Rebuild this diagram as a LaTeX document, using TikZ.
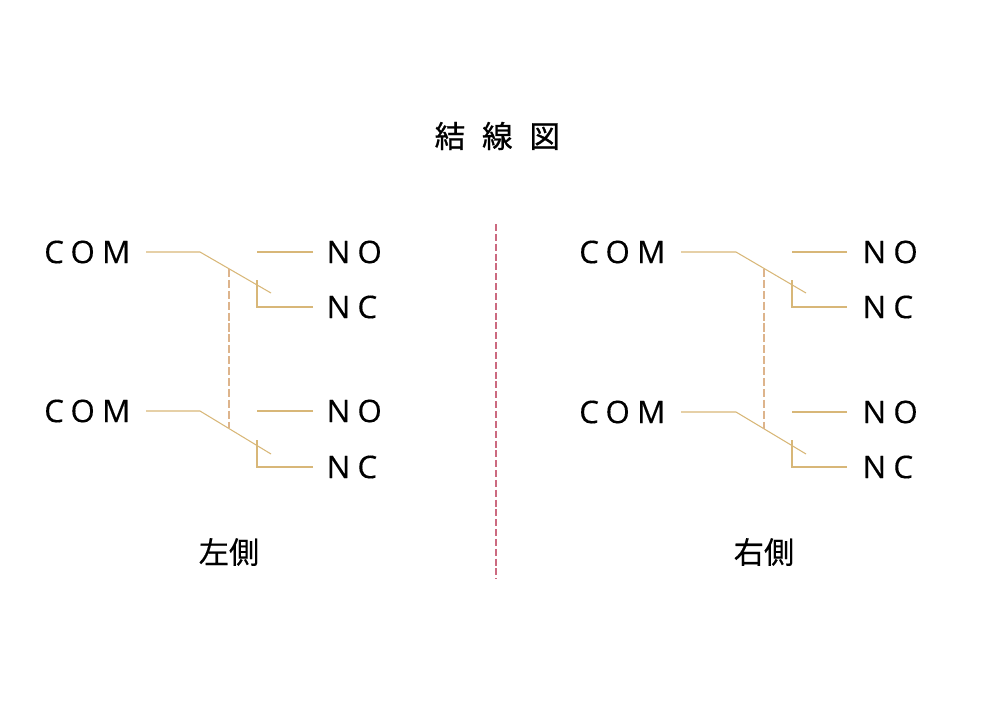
\documentclass[tikz,border=0pt]{standalone}
\usepackage{fontspec}
\setmainfont{Open Sans}
\newfontfamily\portfont[LetterSpace=23,FakeBold=0.25]{Open Sans}
\newfontfamily\cjkfont[FakeBold=0.4]{Noto Sans CJK JP}
\newfontfamily\titlefont[LetterSpace=55,FakeBold=0.8]{Noto Sans CJK JP}
\definecolor{wirecolor}{HTML}{D8B778}
\definecolor{linkcolor}{HTML}{DDB48C}
\definecolor{splitcolor}{HTML}{CC6A80}
\tikzset{
    port/.style = {
        shape=rectangle,
        inner xsep=4.25pt,
        inner ysep=0pt,
        font=\portfont\fontsize{8.9pt}{10pt}\selectfont,
        text=black
    },
    caption/.style = {
        shape=rectangle,
        inner sep=0pt,
        font=\cjkfont\fontsize{8.6pt}{10pt}\selectfont,
        text=black
    },
    wire/.style = {
        draw=wirecolor,
        line width=0.3pt
    },
    link/.style = {
        draw=linkcolor,
        line width=0.3pt,
        dash pattern=on 2.3pt off 0.8pt
    },
    split/.style = {
        draw=splitcolor,
        line width=0.3pt,
        dash pattern=on 2pt off 0.8pt
    },
}

\begin{document}
\begin{tikzpicture}[x=0.1mm,y=-0.1mm]
        \useasboundingbox (0,0) rectangle (1000,706);
        \node[caption, anchor=west, font=\titlefont\fontsize{8.7pt}{10pt}\selectfont] (title) at (434,136) {結線図};

        \node[port, anchor=east] (comlt) at (146,252) {COM};
        \node[port, anchor=west, inner xsep=3.7pt] (nolt) at (313,252) {NO};
        \node[port, anchor=west, inner xsep=3.7pt] (nclt) at (313,307) {NC};
        \node[port, anchor=east] (comlb) at (146,411) {COM};
        \node[port, anchor=west, inner xsep=3.7pt] (nolb) at (313,411) {NO};
        \node[port, anchor=west, inner xsep=3.7pt] (nclb) at (313,467) {NC};
        \node[caption] (left) at (229,552) {左側};

        \node[port, anchor=east] (comrt) at (681,252) {COM};
        \node[port, anchor=west] (nort) at (847,252) {NO};
        \node[port, anchor=west] (ncrt) at (847,307) {NC};
        \node[port, anchor=east] (comrb) at (681,412) {COM};
        \node[port, anchor=west] (norb) at (847,412) {NO};
        \node[port, anchor=west] (ncrb) at (847,467) {NC};
        \node[caption] (right) at (764,552) {右側};

        \coordinate (splittop) at (496,224);
        \coordinate (splitbot) at (496,579);
        \path[split] (splittop) -- (splitbot);

        % left side
        \path[wire] (comlt.east) -- (200,252) -- (271,293);
        \path[wire] (nolt.west) -- (257,252);
        \path[wire] (nclt.west) -- (257,307) -- (257,280);
        \path[wire] (comlb.east) -- (200,411) -- (271,454);
        \path[wire] (nolb.west) -- (257,411);
        \path[wire] (nclb.west) -- (257,467) -- (257,440);
        \path[link] (229,269) -- (229,428);

        % right side
        \path[wire] (comrt.east) -- (736,252) -- (806,293);
        \path[wire] (nort.west) -- (792,252);
        \path[wire] (ncrt.west) -- (792,307) -- (792,280);
        \path[wire] (comrb.east) -- (736,412) -- (806,454);
        \path[wire] (norb.west) -- (792,412);
        \path[wire] (ncrb.west) -- (792,467) -- (792,440);
        \path[link] (764,269) -- (764,429);
    \end{tikzpicture}
\end{document}
